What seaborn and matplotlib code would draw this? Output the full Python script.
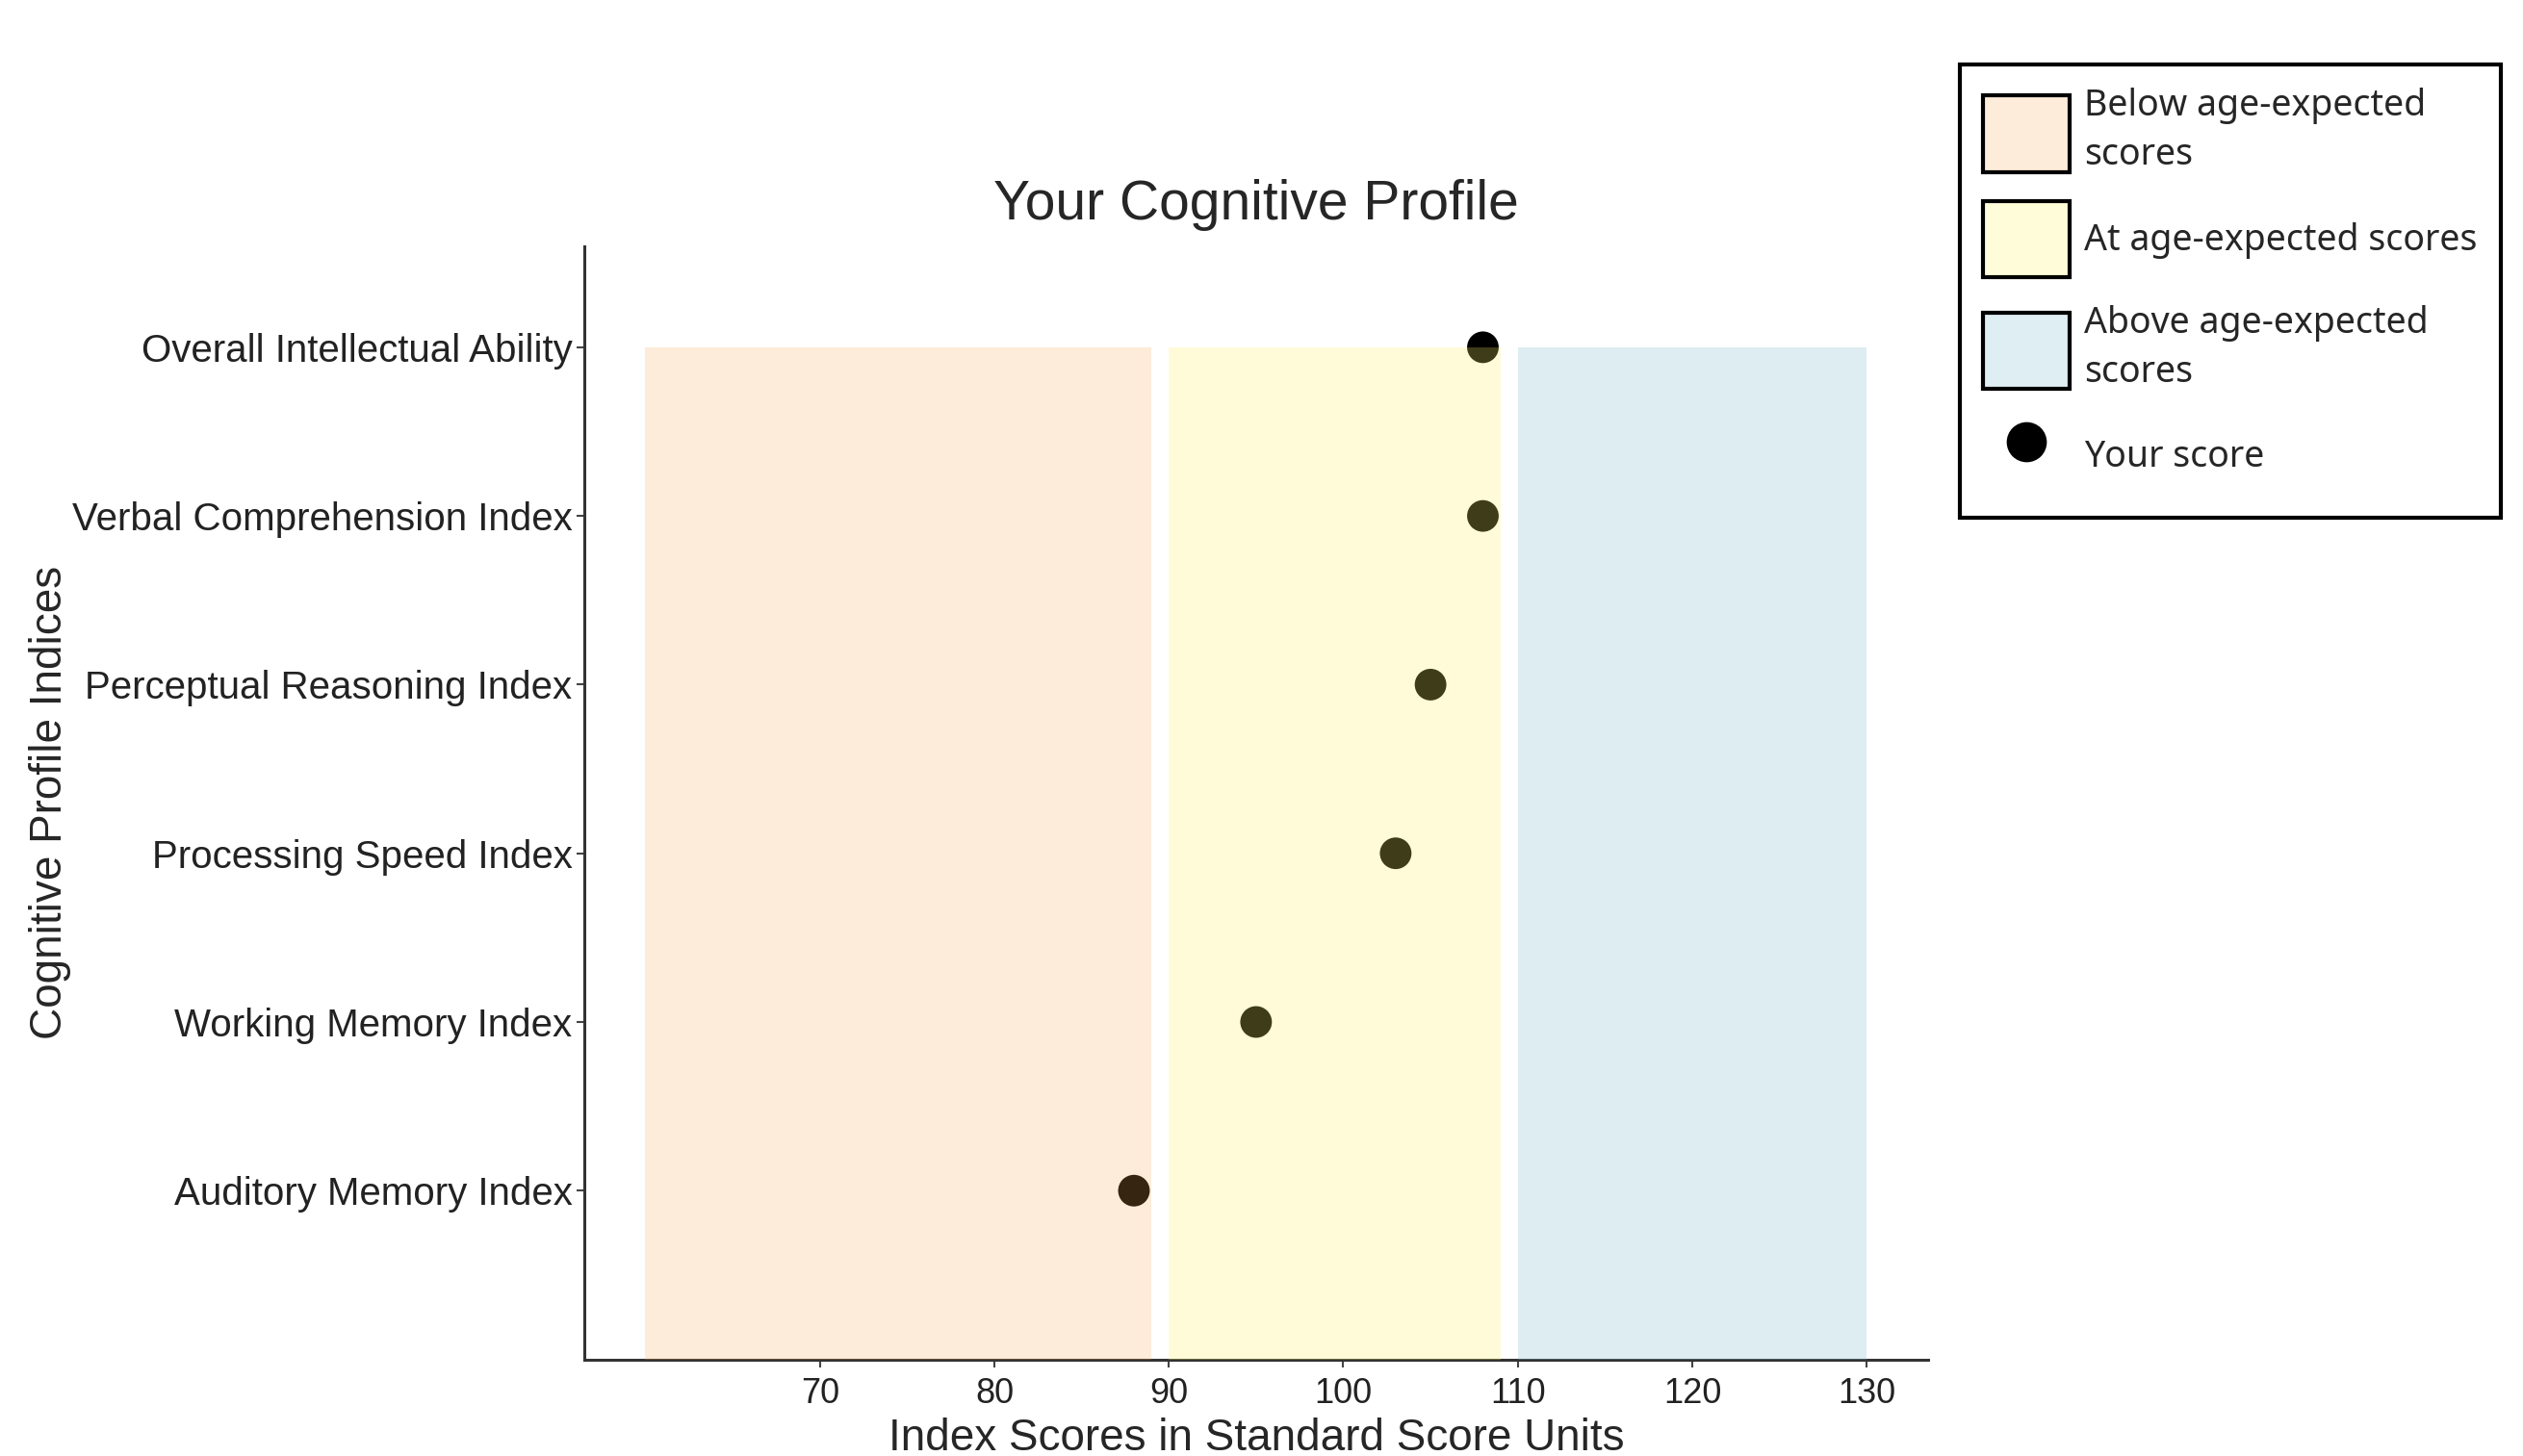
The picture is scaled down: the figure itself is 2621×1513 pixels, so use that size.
import numpy as np
import pandas as pd
import matplotlib.pyplot as plt
import matplotlib.colors as mcolors
import seaborn as sns
from matplotlib.patches import Patch
from matplotlib.lines import Line2D

# data
indices = ["Overall Intellectual Ability", "Verbal Comprehension Index",
           "Perceptual Reasoning Index", "Processing Speed Index",
           "Working Memory Index", "Auditory Memory Index"]
scores = [108, 108, 105, 103, 95, 88]

band_labels = ["Below age-expected\nscores", "At age-expected scores", "Above age-expected\nscores"]
band_low = [60, 90, 110]
band_high = [89, 109, 130]
band_colors = ["#F6A952", "#FFF367", "#7BBBCF"]
band_alpha = [0.22, 0.25, 0.25]

x_ticks = [70, 80, 90, 100, 110, 120, 130]

df = pd.DataFrame({"index": indices, "score": scores})
df["pos"] = np.arange(len(df), 0, -1)

sns.set_theme(style="ticks")
plt.rcParams["font.family"] = ["Liberation Sans", "DejaVu Sans"]

fig = plt.figure(figsize=(26.21, 15.13), dpi=100)
ax = fig.add_axes([0.2316, 0.0664, 0.5325, 0.7646])

sns.scatterplot(data=df, x="score", y="pos", color="black", s=560,
                edgecolor="none", ax=ax, zorder=2, legend=False)

# shaded bands drawn over the points (semi transparent)
for lo, hi, c, a in zip(band_low, band_high, band_colors, band_alpha):
    ax.fill_betweenx([0, len(df)], lo, hi, color=c, alpha=a, lw=0, zorder=3)

ax.set_xlim(56.5, 133.5)
ax.set_ylim(0, 6.6)

ax.set_yticks(df["pos"])
ax.set_yticklabels(df["index"], fontsize=29, color="#222222")
ax.set_xticks(x_ticks)
ax.set_xticklabels(x_ticks, fontsize=26, color="#222222")
ax.tick_params(axis="both", length=6, width=1.5, color="#444444")
ax.tick_params(axis="y", pad=3)
ax.tick_params(axis="x", pad=7)

sns.despine(ax=ax)
for side in ["left", "bottom"]:
    ax.spines[side].set_color("#333333")
    ax.spines[side].set_linewidth(2.2)

ax.set_xlabel("Index Scores in Standard Score Units", fontsize=33, labelpad=5)
ax.set_ylabel("Cognitive Profile Indices", fontsize=33)
ax.yaxis.set_label_coords(-0.382, 0.5)
ax.set_title("Your Cognitive Profile", fontsize=41, pad=20)

# legend
def on_white(c, a):
    rgb = np.array(mcolors.to_rgb(c))
    return tuple(1 - a * (1 - rgb))

handles = [Patch(facecolor=on_white(c, a), edgecolor="black", linewidth=3)
           for c, a in zip(band_colors, band_alpha)]
handles.append(Line2D([], [], marker="o", color="black", linestyle="none", markersize=29))
labels = band_labels + ["Your score"]

leg = fig.legend(handles, labels, loc="upper left", bbox_to_anchor=(0.7768, 0.9557),
                 frameon=True, fancybox=False, edgecolor="black", framealpha=1,
                 prop={"family": "Noto Sans", "size": 27}, handlelength=2.4, handleheight=2.9,
                 handletextpad=0.4, labelspacing=0.75, borderpad=0.65, borderaxespad=0)
leg.get_frame().set_linewidth(3)
for t in leg.get_texts():
    t.set_linespacing(1.45)

fig.savefig("out.png", dpi=100, facecolor="white")
